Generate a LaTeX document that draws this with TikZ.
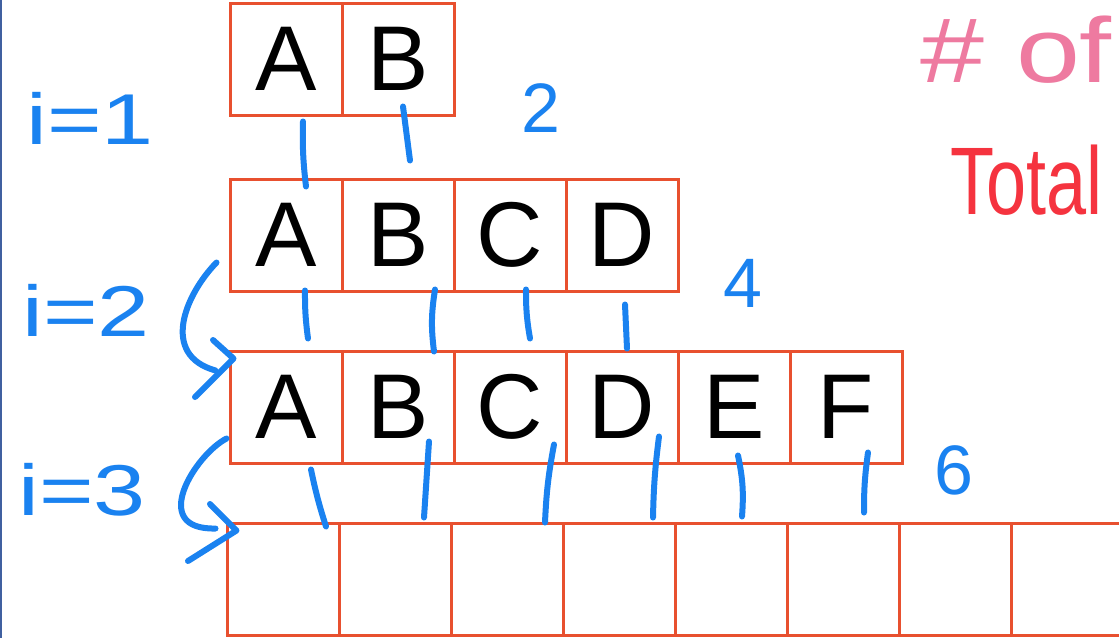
\documentclass[tikz,border=0pt]{standalone}
\usepackage{fontspec}
\setmainfont{Liberation Sans}
\usetikzlibrary{calc}
\definecolor{boxred}{HTML}{E8502F}
\definecolor{inkblue}{HTML}{1A82F0}
\definecolor{inkpink}{HTML}{EE7AA0}
\definecolor{inkred}{HTML}{F5333F}
\definecolor{edgeblue}{HTML}{4060A0}
\tikzset{
  cell/.style={draw=boxred, line width=3pt, minimum width=112pt, minimum height=112pt,
    inner sep=0pt, font=\fontsize{92}{92}\selectfont},
  conn/.style={draw=inkblue, line width=6pt, line cap=round},
  bluelabel/.style={text=inkblue, inner sep=0pt, font=\fontsize{72}{72}\selectfont},
  bignum/.style={text=inkblue, inner sep=0pt, font=\fontsize{70}{70}\selectfont},
}
\begin{document}
\begin{tikzpicture}[x=1pt,y=-1pt]
\useasboundingbox (0,0) rectangle (1119,638);
\fill[white] (0,0) rectangle (1119,638);
\begin{scope}
\clip (0,0) rectangle (1119,638);
% left edge
\draw[edgeblue, line width=2pt] (1,0) -- (1,638);
% row 1
\node[cell] (r1c1) at (286,59) {A};
\node[cell] (r1c2) at (398,59) {B};
% row 2
\node[cell] (r2c1) at (286,235) {A};
\node[cell] (r2c2) at (398,235) {B};
\node[cell] (r2c3) at (510,235) {C};
\node[cell] (r2c4) at (622,235) {D};
% row 3
\node[cell] (r3c1) at (286,407) {A};
\node[cell] (r3c2) at (398,407) {B};
\node[cell] (r3c3) at (510,407) {C};
\node[cell] (r3c4) at (622,407) {D};
\node[cell] (r3c5) at (734,407) {E};
\node[cell] (r3c6) at (846,407) {F};
% row 4
\node[cell] (r4c1) at (283,579) {};
\node[cell] (r4c2) at (395,579) {};
\node[cell] (r4c3) at (507,579) {};
\node[cell] (r4c4) at (619,579) {};
\node[cell] (r4c5) at (731,579) {};
\node[cell] (r4c6) at (843,579) {};
\node[cell] (r4c7) at (955,579) {};
\node[cell] (r4c8) at (1067,579) {};
% connectors row 1 -> row 2
\draw[conn] ($(r1c1.south)+(17,5)$) to[bend right=4] ($(r2c1.north)+(20,9)$);
\draw[conn] ($(r1c2.south)+(5,-10)$) -- ($(r2c2.north)+(12,-17)$);
% row 2 -> row 3
\draw[conn] ($(r2c1.south)+(19,-2)$) to[bend right=4] ($(r3c1.north)+(22,-11)$);
\draw[conn] ($(r2c2.south)+(37,-3)$) to[bend right=8] ($(r3c2.north)+(36,2)$);
\draw[conn] ($(r2c3.south)+(16,-3)$) to[bend right=5] ($(r3c3.north)+(20,-11)$);
\draw[conn] ($(r2c4.south)+(3,12)$) -- ($(r3c4.north)+(5,-1)$);
% row 3 -> row 4
\draw[conn] ($(r3c1.south)+(25,5)$) to[bend right=3] ($(r4c1.north)+(43,5)$);
\draw[conn] ($(r3c2.south)+(31,-23)$) -- ($(r4c2.north)+(29,-4)$);
\draw[conn] ($(r3c3.south)+(44,-20)$) to[bend right=4] ($(r4c3.north)+(38,1)$);
\draw[conn] ($(r3c4.south)+(37,-28)$) to[bend right=3] ($(r4c4.north)+(34,-4)$);
\draw[conn] ($(r3c5.south)+(4,-9)$) to[bend left=8] ($(r4c5.north)+(11,-5)$);
\draw[conn] ($(r3c6.south)+(22,-12)$) to[bend right=4] ($(r4c6.north)+(21,-9)$);
% curved arrows
\coordinate (a1s) at ($(r2c1.south west)+(-12,-30)$);
\coordinate (a1e) at ($(r3c1.north west)+(-13,21)$);
\coordinate (a1t) at ($(r3c1.north west)+(5,9)$);
\draw[conn, line join=round] (a1s) .. controls (185,295) and (160,355) .. (a1e);
\draw[conn, line join=round] (213,340) -- (a1t) -- (195,397);
\coordinate (a2s) at ($(r3c1.south west)+(-2,-26)$);
\coordinate (a2e) at ($(r4c1.north west)+(-10,7)$);
\coordinate (a2t) at ($(r4c1.north west)+(11,9)$);
\draw[conn, line join=round] (a2s) .. controls (195,455) and (148,530) .. (a2e);
\draw[conn, line join=round] (210,504) -- (a2t) -- (188,561);
% labels
\node[bluelabel] (l1) at (90,118) {\scalebox{1.3}[1]{i=1}};
\node[bluelabel] (l2) at (86,310) {\scalebox{1.3}[1]{i=2}};
\node[bluelabel] (l3) at (82,490) {\scalebox{1.3}[1]{i=3}};
\node[bignum] (n2) at (541,108) {2};
\node[bignum] (n4) at (743,283) {4};
\node[bignum] (n6) at (954,470) {6};
\node[text=inkpink, inner sep=0pt, font=\fontsize{92}{92}\selectfont, anchor=west] (hof) at (920,50) {\scalebox{1.25}[1]{\# of}};
\node[text=inkred, inner sep=0pt, font=\fontsize{96}{96}\selectfont, anchor=west] (tot) at (950,180) {\scalebox{0.75}[1]{Total}};
\end{scope}
\end{tikzpicture}
\end{document}
